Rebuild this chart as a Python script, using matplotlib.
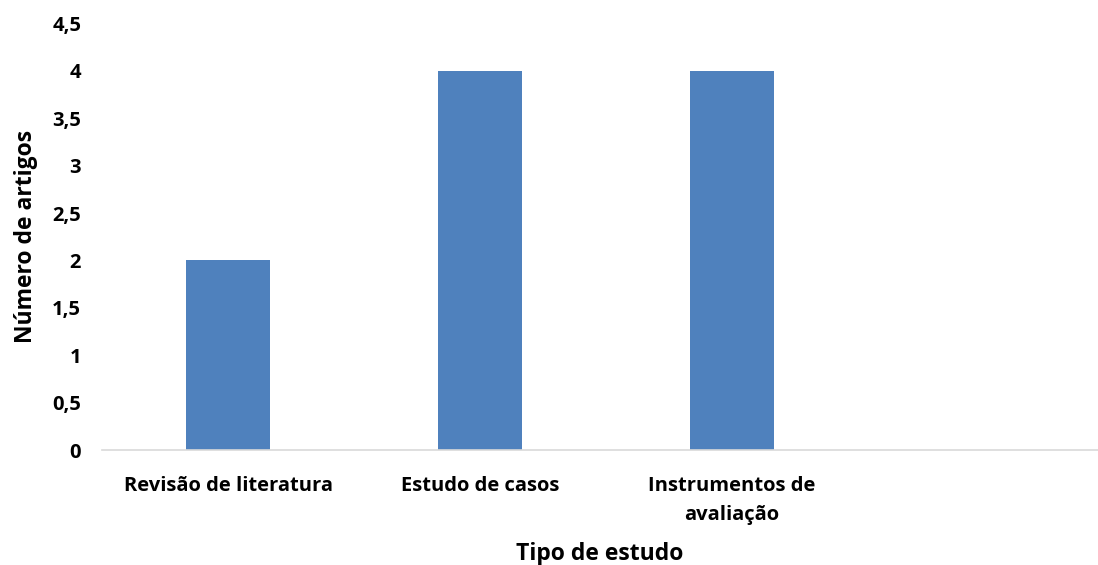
import numpy as np
import matplotlib.pyplot as plt

# Número de artigos por tipo de estudo
categorias = ['Revisão de literatura', 'Estudo de casos', 'Instrumentos de\navaliação', '']
artigos = [2, 4, 4, 0]
yticks = [0, 0.5, 1, 1.5, 2, 2.5, 3, 3.5, 4, 4.5]

plt.rcParams['font.family'] = ['Open Sans', 'DejaVu Sans']
plt.rcParams['font.weight'] = 'bold'

fig = plt.figure(figsize=(10.98, 5.65), dpi=100)
ax = fig.add_axes([102 / 1098, 115 / 565, 1 - 102 / 1098, (450 - 23.6) / 565])

x = np.arange(len(categorias))
ax.bar(x[:3], artigos[:3], width=84 / 252, color='#4f81bd')

ax.set_xlim(-0.5, (1098 - 102) / 252 - 0.5)
ax.set_ylim(0, 4.5)
ax.set_yticks(yticks)
ax.set_yticklabels([f'{v:g}'.replace('.', ',') for v in yticks])
ax.set_xticks(x)
ax.set_xticklabels(categorias, linespacing=1.6)

for s in ['top', 'right', 'left']:
    ax.spines[s].set_visible(False)
ax.spines['bottom'].set_color('#d9d9d9')
ax.spines['bottom'].set_linewidth(1.2)

ax.tick_params(axis='y', length=0, pad=15, labelsize=14.5)
ax.tick_params(axis='x', length=0, pad=19, labelsize=14.5)

ax.set_ylabel('Número de artigos', fontsize=16.5, fontweight='bold', labelpad=10)
ax.set_xlabel('Tipo de estudo', fontsize=16.5, fontweight='bold', labelpad=12)

fig.savefig('out.png', dpi=100)
